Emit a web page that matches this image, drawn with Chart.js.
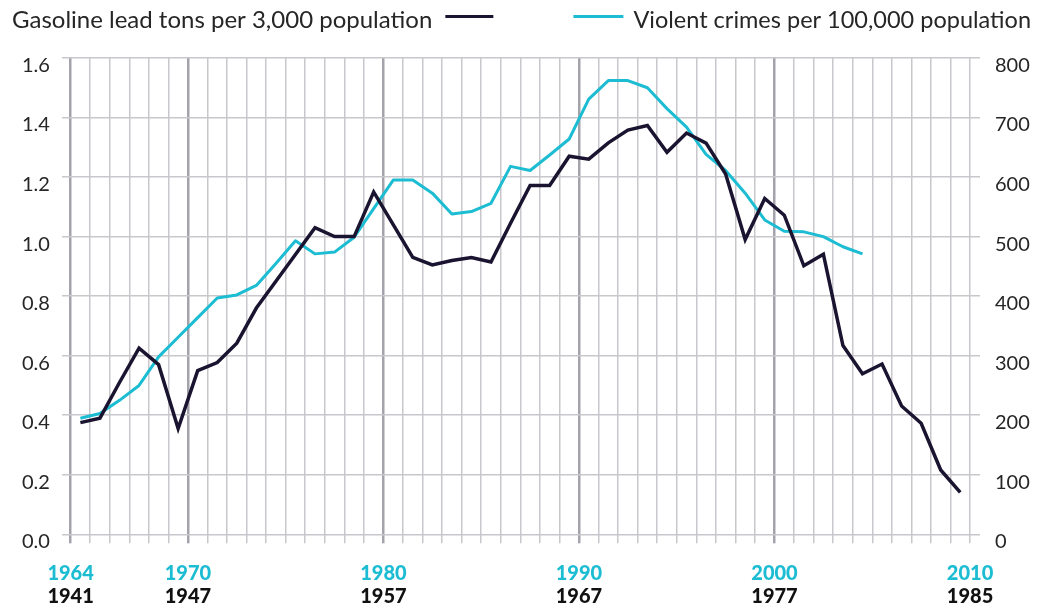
<!DOCTYPE html>
<html>
<head>
<meta charset="utf-8">
<script src="https://cdn.jsdelivr.net/npm/chart.js@4.4.1/dist/chart.umd.min.js"></script>
<style>
  html, body { margin: 0; padding: 0; background: #ffffff; }
  #wrap { position: relative; width: 1054px; height: 605px; }
</style>
</head>
<body>
<div id="wrap"><canvas id="c" width="1054" height="605" style="width:1054px;height:605px"></canvas></div>
<script>
// ---- data ----
const YEARS = [1964,1965,1966,1967,1968,1969,1970,1971,1972,1973,1974,1975,1976,1977,1978,1979,
  1980,1981,1982,1983,1984,1985,1986,1987,1988,1989,1990,1991,1992,1993,1994,1995,1996,1997,1998,1999,
  2000,2001,2002,2003,2004,2005,2006,2007,2008,2009];
// Gasoline lead tons per 3,000 population (left axis), plotted 23 years later
const LEAD = [0.375,0.39,0.51,0.625,0.57,0.355,0.55,0.577,0.642,0.76,0.85,0.94,1.03,1.00,1.00,1.15,
  1.04,0.93,0.905,0.92,0.93,0.915,1.045,1.172,1.172,1.27,1.26,1.315,1.358,1.373,1.283,1.348,1.314,1.21,0.99,1.128,
  1.072,0.902,0.941,0.634,0.539,0.572,0.431,0.373,0.216,0.141];
// Violent crimes per 100,000 population (right axis), 1964-2004
const CRIME = [195,203,225,250,298,331,364,397,402,418,455,493,471,474,499,547,
  595,595,573,538,542,556,618,611,637,664,731,762,762,750,715,684,638,611,573,528,
  509,508,500,483,471];
const CRIME_TICK_YEARS = [1964,1970,1980,1990,2000,2010];
const LEAD_TICK_YEARS  = [1941,1947,1957,1967,1977,1985];
const MAJOR_YEARS = [1964,1970,1980,1990,2000];
const LEAD_LABEL  = 'Gasoline lead tons per 3,000 population';
const CRIME_LABEL = 'Violent crimes per 100,000 population';

// ---- styles ----
const BLACK = '#1b1430';
const CYAN  = '#1cbcd3';
const TEXT  = '#262626';
const GRID_MINOR = '#c8c8cc';
const GRID_MAJOR = '#a3a3ab';
const FONT = 'Lato, "Open Sans", sans-serif';
const X_MIN = 1963.56, X_MAX = 2010.51;
const YEAR_CENTER = 0.5; // each yearly value sits in the middle of its year column

const gridYears = [];
for (let y = CRIME_TICK_YEARS[0]; y <= CRIME_TICK_YEARS[CRIME_TICK_YEARS.length - 1]; y++) gridYears.push(y);

const legendPlugin = {
  id: 'topLegend',
  afterDraw(chart) {
    const ctx = chart.ctx;
    const ds = chart.data.datasets;
    ctx.save();
    ctx.font = '24px ' + FONT;
    ctx.fillStyle = TEXT;
    ctx.textBaseline = 'alphabetic';
    ctx.textAlign = 'left';
    ctx.fillText(ds[0].label, 12, 27.5);
    const w1 = ctx.measureText(ds[0].label).width;
    ctx.lineWidth = 3;
    ctx.strokeStyle = ds[0].borderColor;
    ctx.beginPath();
    ctx.moveTo(12 + w1 + 13, 16.5);
    ctx.lineTo(12 + w1 + 61, 16.5);
    ctx.stroke();
    ctx.font = '23.5px ' + FONT;
    ctx.textAlign = 'right';
    ctx.fillText(ds[1].label, 1031, 27.5);
    const w2 = ctx.measureText(ds[1].label).width;
    ctx.strokeStyle = ds[1].borderColor;
    ctx.beginPath();
    ctx.moveTo(1031 - w2 - 60, 16.5);
    ctx.lineTo(1031 - w2 - 10, 16.5);
    ctx.stroke();
    ctx.restore();
  }
};

new Chart(document.getElementById('c'), {
  type: 'line',
  data: {
    datasets: [
      {
        label: LEAD_LABEL,
        data: YEARS.map((yr, i) => ({ x: yr + YEAR_CENTER, y: LEAD[i] })),
        xAxisID: 'x', yAxisID: 'y',
        borderColor: BLACK, backgroundColor: BLACK,
        borderWidth: 3.5, pointRadius: 0, tension: 0, fill: false
      },
      {
        label: CRIME_LABEL,
        data: CRIME.map((v, i) => ({ x: YEARS[i] + YEAR_CENTER, y: v })),
        xAxisID: 'x', yAxisID: 'y2',
        borderColor: CYAN, backgroundColor: CYAN,
        borderWidth: 3, pointRadius: 0, tension: 0, fill: false,
        borderJoinStyle: 'round'
      }
    ]
  },
  options: {
    responsive: false,
    animation: false,
    devicePixelRatio: 1,
    layout: { padding: { top: 58, left: 22, right: 0, bottom: 0 } },
    plugins: { legend: { display: false }, tooltip: { enabled: false } },
    scales: {
      x: {
        type: 'linear', position: 'bottom', min: X_MIN, max: X_MAX,
        afterBuildTicks: s => { s.ticks = gridYears.map(v => ({ value: v })); },
        afterFit: s => { s.height = 50; },
        border: { display: false },
        grid: {
          color: c => MAJOR_YEARS.includes(c.tick && c.tick.value) ? GRID_MAJOR : GRID_MINOR,
          lineWidth: c => MAJOR_YEARS.includes(c.tick && c.tick.value) ? 2.5 : 1.5,
          tickLength: 9, drawTicks: true
        },
        ticks: {
          autoSkip: false, maxRotation: 0, minRotation: 0, padding: 18.4,
          color: CYAN, font: { family: FONT, size: 20, weight: '900' },
          callback: v => CRIME_TICK_YEARS.includes(v) ? String(v) : ''
        }
      },
      x2: {
        type: 'linear', position: 'bottom', min: X_MIN, max: X_MAX,
        afterBuildTicks: s => { s.ticks = CRIME_TICK_YEARS.map(v => ({ value: v })); },
        afterFit: s => { s.height = 20.7; },
        border: { display: false },
        grid: { display: false, drawTicks: false },
        ticks: {
          autoSkip: false, maxRotation: 0, minRotation: 0, padding: 0.2,
          color: '#111111', font: { family: FONT, size: 20, weight: '900' },
          callback: v => { const i = CRIME_TICK_YEARS.indexOf(v); return i >= 0 ? String(LEAD_TICK_YEARS[i]) : ''; }
        }
      },
      y: {
        position: 'left', min: 0, max: 1.6,
        afterFit: s => { s.width = 40; },
        border: { display: false },
        grid: { color: GRID_MINOR, lineWidth: 1.5, drawTicks: false },
        ticks: {
          stepSize: 0.2, crossAlign: 'far', labelOffset: 7.5, padding: 0,
          color: TEXT, font: { family: FONT, size: 20 },
          callback: v => Number(v).toFixed(1)
        }
      },
      y2: {
        position: 'right', min: 0, max: 800,
        afterFit: s => { s.width = 74; },
        border: { display: false },
        grid: { display: false, drawTicks: false },
        ticks: {
          stepSize: 100, padding: 15, labelOffset: 7.5,
          color: TEXT, font: { family: FONT, size: 20 }
        }
      }
    }
  },
  plugins: [legendPlugin]
});
</script>
</body>
</html>
